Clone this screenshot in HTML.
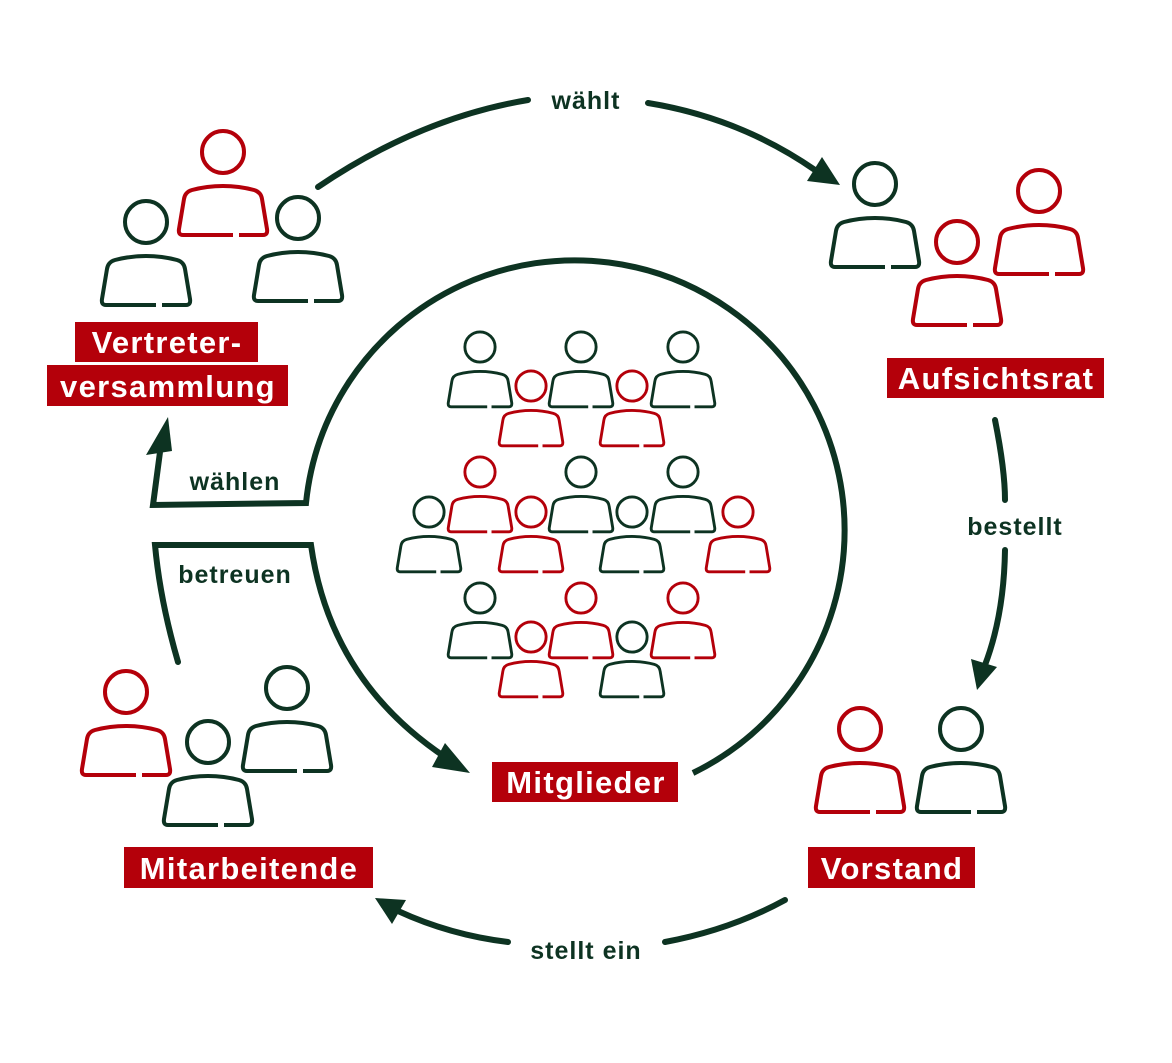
<!DOCTYPE html>
<html><head><meta charset="utf-8"><style>
html,body{margin:0;padding:0;background:#fff}
svg{display:block}
.lbl{font-family:"Liberation Sans",sans-serif;font-weight:bold;font-size:31px;letter-spacing:1.3px;fill:#fff}
.t{font-family:"Liberation Sans",sans-serif;font-weight:bold;font-size:25px;letter-spacing:1px;fill:#0d3322}
</style></head><body>
<svg width="1172" height="1063" viewBox="0 0 1172 1063" xmlns="http://www.w3.org/2000/svg">
<defs>
<g id="p" fill="none" stroke-width="4" stroke-linecap="butt">
<circle cx="0" cy="0" r="21"/>
<path d="M 16,83 H 40 Q 45,83 44,77 L 39,47 Q 38,40 31,38 Q 16,34 0,34 Q -16,34 -31,38 Q -38,40 -39,47 L -44,77 Q -45,83 -40,83 H 10"/>
</g>
</defs>
<g stroke="#0d3322" fill="none" stroke-width="6" stroke-linecap="round">
<path d="M318,187 Q420,118 528,100"/>
<path d="M648,103 Q740,118 815,170"/>
<path d="M995,420 Q1005,470 1005,500"/>
<path d="M1005,550 Q1004,615 985,665"/>
<path d="M785,900 Q730,930 665,942"/>
<path d="M508,942 Q450,935 398,911"/>
<path d="M693,773 A 270 270 0 1 0 306,503 L153,505 L160,452" stroke-linejoin="miter" stroke-linecap="butt"/>
<path d="M178,662 Q160,600 155,545 L311,545 Q330,680 445,757" stroke-linejoin="miter"/>
</g>
<g fill="#0d3322">
<polygon points="840,185 807,181 822,157"/>
<polygon points="977,690 997,667 971,659"/>
<polygon points="375,898 406,900 392,924"/>
<polygon points="168,417 146,455 172,451"/>
<polygon points="470,773 445,743 432,767"/>
</g>
<use href="#p" x="223" y="152" stroke="#b4000a"/>
<use href="#p" x="146" y="222" stroke="#0d3322"/>
<use href="#p" x="298" y="218" stroke="#0d3322"/>
<use href="#p" x="875" y="184" stroke="#0d3322"/>
<use href="#p" x="1039" y="191" stroke="#b4000a"/>
<use href="#p" x="957" y="242" stroke="#b4000a"/>
<use href="#p" x="860" y="729" stroke="#b4000a"/>
<use href="#p" x="961" y="729" stroke="#0d3322"/>
<use href="#p" x="126" y="692" stroke="#b4000a"/>
<use href="#p" x="287" y="688" stroke="#0d3322"/>
<use href="#p" x="208" y="742" stroke="#0d3322"/>
<g transform="translate(480,347) scale(0.72)"><use href="#p" stroke="#0d3322"/></g>
<g transform="translate(581,347) scale(0.72)"><use href="#p" stroke="#0d3322"/></g>
<g transform="translate(683,347) scale(0.72)"><use href="#p" stroke="#0d3322"/></g>
<g transform="translate(531,386) scale(0.72)"><use href="#p" stroke="#b4000a"/></g>
<g transform="translate(632,386) scale(0.72)"><use href="#p" stroke="#b4000a"/></g>
<g transform="translate(480,472) scale(0.72)"><use href="#p" stroke="#b4000a"/></g>
<g transform="translate(581,472) scale(0.72)"><use href="#p" stroke="#0d3322"/></g>
<g transform="translate(683,472) scale(0.72)"><use href="#p" stroke="#0d3322"/></g>
<g transform="translate(429,512) scale(0.72)"><use href="#p" stroke="#0d3322"/></g>
<g transform="translate(531,512) scale(0.72)"><use href="#p" stroke="#b4000a"/></g>
<g transform="translate(632,512) scale(0.72)"><use href="#p" stroke="#0d3322"/></g>
<g transform="translate(738,512) scale(0.72)"><use href="#p" stroke="#b4000a"/></g>
<g transform="translate(480,598) scale(0.72)"><use href="#p" stroke="#0d3322"/></g>
<g transform="translate(581,598) scale(0.72)"><use href="#p" stroke="#b4000a"/></g>
<g transform="translate(683,598) scale(0.72)"><use href="#p" stroke="#b4000a"/></g>
<g transform="translate(531,637) scale(0.72)"><use href="#p" stroke="#b4000a"/></g>
<g transform="translate(632,637) scale(0.72)"><use href="#p" stroke="#0d3322"/></g>
<g fill="#b4000a">
<rect x="75" y="322" width="183" height="40"/>
<rect x="47" y="365" width="241" height="41"/>
<rect x="887" y="358" width="217" height="40"/>
<rect x="492" y="762" width="186" height="40"/>
<rect x="808" y="847" width="167" height="41"/>
<rect x="124" y="847" width="249" height="41"/>
</g>
<text class="lbl" x="167" y="353" text-anchor="middle">Vertreter-</text>
<text class="lbl" x="168" y="397" text-anchor="middle">versammlung</text>
<text class="lbl" x="996" y="389" text-anchor="middle">Aufsichtsrat</text>
<text class="lbl" x="586" y="793" text-anchor="middle">Mitglieder</text>
<text class="lbl" x="892" y="879" text-anchor="middle">Vorstand</text>
<text class="lbl" x="249" y="879" text-anchor="middle">Mitarbeitende</text>
<text class="t" x="586" y="109" text-anchor="middle">wählt</text>
<text class="t" x="1015" y="535" text-anchor="middle">bestellt</text>
<text class="t" x="586" y="959" text-anchor="middle">stellt ein</text>
<text class="t" x="235" y="490" text-anchor="middle">wählen</text>
<text class="t" x="235" y="583" text-anchor="middle">betreuen</text>
</svg>
</body></html>
